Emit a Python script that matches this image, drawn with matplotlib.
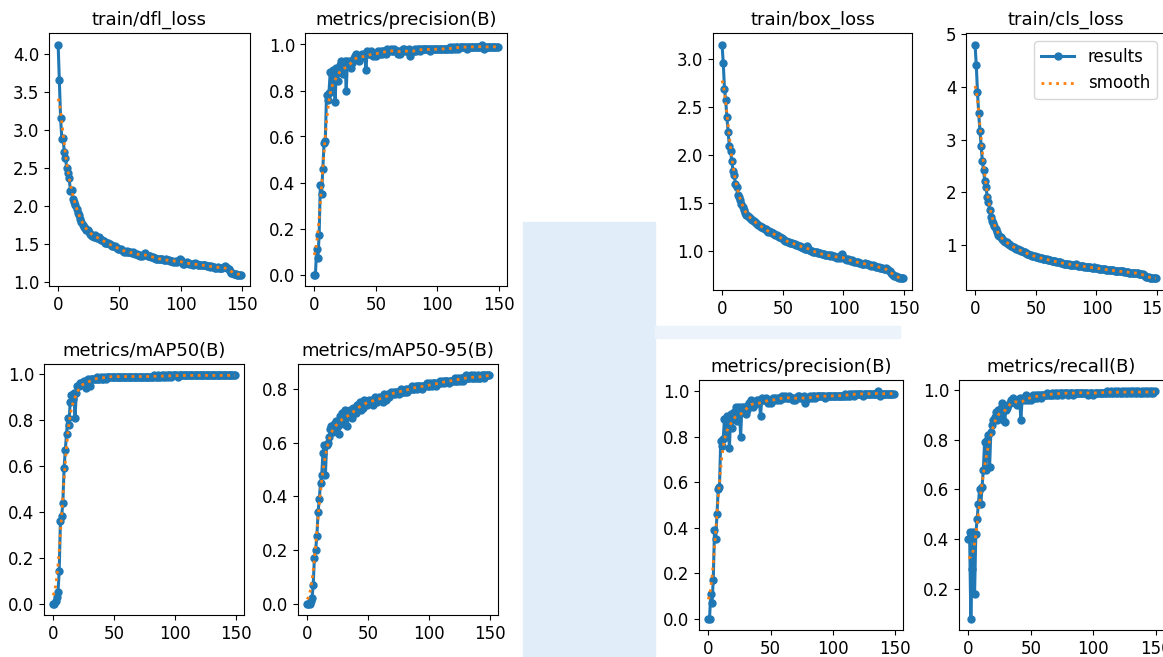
import numpy as np
import matplotlib.pyplot as plt
from matplotlib.patches import Rectangle

W, H = 1163, 657
plt.rcParams['font.family'] = ['DejaVu Sans']
plt.rcParams['font.size'] = 12

epochs = np.arange(150)

dfl_loss = [
    4.13, 3.66, 3.16, 2.89, 2.90, 2.72, 2.64, 2.50, 2.44, 2.37,
    2.20, 2.21, 2.10, 2.05, 2.01, 1.96, 1.91, 1.88, 1.83, 1.79,
    1.75, 1.73, 1.71, 1.69, 1.68, 1.66, 1.64, 1.62, 1.61, 1.60,
    1.62, 1.60, 1.58, 1.59, 1.57, 1.56, 1.55, 1.54, 1.52, 1.51,
    1.51, 1.52, 1.50, 1.49, 1.48, 1.47, 1.47, 1.46, 1.45, 1.44,
    1.44, 1.43, 1.42, 1.41, 1.40, 1.40, 1.41, 1.39, 1.39, 1.40,
    1.38, 1.39, 1.38, 1.37, 1.37, 1.36, 1.36, 1.35, 1.35, 1.36,
    1.37, 1.38, 1.36, 1.35, 1.34, 1.34, 1.33, 1.33, 1.32, 1.32,
    1.31, 1.31, 1.31, 1.30, 1.30, 1.30, 1.29, 1.29, 1.30, 1.29,
    1.29, 1.28, 1.28, 1.28, 1.27, 1.27, 1.28, 1.27, 1.28, 1.30,
    1.29, 1.26, 1.24, 1.24, 1.25, 1.26, 1.25, 1.24, 1.24, 1.24,
    1.23, 1.24, 1.25, 1.24, 1.23, 1.23, 1.22, 1.22, 1.23, 1.22,
    1.22, 1.21, 1.21, 1.21, 1.20, 1.21, 1.20, 1.20, 1.19, 1.19,
    1.20, 1.19, 1.19, 1.19, 1.18, 1.20, 1.21, 1.20, 1.19, 1.17,
    1.14, 1.12, 1.12, 1.11, 1.11, 1.11, 1.10, 1.10, 1.10, 1.10,
]

box_loss = [
    3.15, 2.96, 2.69, 2.57, 2.39, 2.24, 2.09, 2.04, 1.93, 1.83,
    1.79, 1.70, 1.66, 1.58, 1.56, 1.53, 1.49, 1.45, 1.42, 1.39,
    1.37, 1.36, 1.35, 1.34, 1.33, 1.32, 1.31, 1.30, 1.29, 1.28,
    1.27, 1.26, 1.25, 1.25, 1.24, 1.23, 1.22, 1.20, 1.19, 1.20,
    1.19, 1.18, 1.18, 1.17, 1.16, 1.16, 1.15, 1.14, 1.14, 1.13,
    1.12, 1.11, 1.10, 1.10, 1.09, 1.09, 1.08, 1.08, 1.08, 1.07,
    1.07, 1.06, 1.06, 1.05, 1.05, 1.04, 1.04, 1.03, 1.02, 1.02,
    1.05, 1.03, 1.01, 1.00, 1.00, 0.99, 0.99, 0.98, 0.98, 0.97,
    0.97, 0.97, 0.96, 0.96, 0.96, 0.95, 0.95, 0.95, 0.95, 0.94,
    0.95, 0.94, 0.94, 0.93, 0.93, 0.92, 0.93, 0.92, 0.95, 0.96,
    0.93, 0.91, 0.91, 0.90, 0.91, 0.90, 0.89, 0.90, 0.89, 0.88,
    0.88, 0.88, 0.88, 0.87, 0.87, 0.86, 0.86, 0.86, 0.87, 0.86,
    0.86, 0.85, 0.85, 0.84, 0.85, 0.84, 0.84, 0.83, 0.83, 0.83,
    0.82, 0.82, 0.82, 0.81, 0.81, 0.82, 0.81, 0.80, 0.79, 0.77,
    0.75, 0.74, 0.73, 0.73, 0.72, 0.72, 0.71, 0.71, 0.71, 0.71,
]

cls_loss = [
    4.80, 4.42, 3.91, 3.50, 3.17, 2.88, 2.60, 2.42, 2.22, 2.10,
    1.92, 1.82, 1.67, 1.53, 1.46, 1.42, 1.36, 1.30, 1.24, 1.20,
    1.17, 1.15, 1.12, 1.10, 1.08, 1.06, 1.05, 1.03, 1.02, 1.00,
    0.99, 0.97, 0.96, 0.95, 0.93, 0.92, 0.91, 0.90, 0.89, 0.88,
    0.87, 0.86, 0.85, 0.84, 0.83, 0.82, 0.81, 0.80, 0.79, 0.79,
    0.78, 0.77, 0.77, 0.76, 0.75, 0.75, 0.74, 0.74, 0.73, 0.73,
    0.72, 0.72, 0.71, 0.70, 0.70, 0.69, 0.69, 0.68, 0.68, 0.67,
    0.67, 0.66, 0.66, 0.65, 0.65, 0.65, 0.64, 0.64, 0.63, 0.63,
    0.63, 0.62, 0.63, 0.64, 0.62, 0.61, 0.61, 0.60, 0.60, 0.60,
    0.59, 0.59, 0.59, 0.58, 0.58, 0.58, 0.57, 0.57, 0.58, 0.57,
    0.56, 0.56, 0.55, 0.55, 0.55, 0.54, 0.54, 0.54, 0.53, 0.53,
    0.53, 0.53, 0.52, 0.52, 0.52, 0.51, 0.51, 0.51, 0.51, 0.50,
    0.50, 0.50, 0.50, 0.49, 0.49, 0.49, 0.49, 0.48, 0.48, 0.48,
    0.48, 0.47, 0.47, 0.47, 0.47, 0.46, 0.46, 0.46, 0.45, 0.43,
    0.41, 0.40, 0.39, 0.39, 0.38, 0.38, 0.38, 0.37, 0.37, 0.37,
]

precision = [
    0.00, 0.00, 0.11, 0.07, 0.17, 0.39, 0.35, 0.46, 0.57, 0.58,
    0.78, 0.76, 0.79, 0.88, 0.80, 0.89, 0.85, 0.75, 0.90, 0.84,
    0.88, 0.91, 0.93, 0.87, 0.92, 0.93, 0.80, 0.93, 0.91, 0.93,
    0.90, 0.92, 0.94, 0.95, 0.96, 0.95, 0.93, 0.94, 0.95, 0.96,
    0.95, 0.96, 0.89, 0.97, 0.96, 0.96, 0.97, 0.96, 0.95, 0.96,
    0.95, 0.96, 0.97, 0.96, 0.97, 0.96, 0.97, 0.97, 0.96, 0.98,
    0.97, 0.97, 0.98, 0.97, 0.97, 0.98, 0.97, 0.97, 0.96, 0.97,
    0.96, 0.97, 0.98, 0.98, 0.97, 0.97, 0.97, 0.98, 0.95, 0.97,
    0.97, 0.97, 0.98, 0.97, 0.98, 0.98, 0.97, 0.98, 0.98, 0.98,
    0.98, 0.98, 0.98, 0.98, 0.97, 0.98, 0.98, 0.98, 0.98, 0.98,
    0.98, 0.98, 0.98, 0.98, 0.98, 0.98, 0.98, 0.98, 0.98, 0.98,
    0.99, 0.98, 0.98, 0.99, 0.98, 0.99, 0.99, 0.98, 0.99, 0.99,
    0.99, 0.99, 0.99, 0.99, 0.98, 0.99, 0.99, 0.99, 0.99, 0.99,
    0.99, 0.99, 0.99, 0.99, 0.99, 0.99, 1.00, 0.99, 0.98, 0.99,
    0.99, 0.99, 0.99, 0.99, 0.99, 0.99, 0.99, 0.99, 0.99, 0.99,
]

recall = [
    0.40, 0.43, 0.08, 0.28, 0.43, 0.18, 0.42, 0.48, 0.54, 0.60,
    0.54, 0.61, 0.68, 0.79, 0.68, 0.80, 0.82, 0.69, 0.83, 0.86,
    0.88, 0.89, 0.91, 0.88, 0.92, 0.90, 0.93, 0.95, 0.88, 0.87,
    0.92, 0.93, 0.94, 0.95, 0.96, 0.96, 0.97, 0.95, 0.96, 0.94,
    0.96, 0.97, 0.88, 0.96, 0.97, 0.96, 0.98, 0.97, 0.96, 0.97,
    0.96, 0.97, 0.98, 0.97, 0.98, 0.97, 0.98, 0.98, 0.97, 0.98,
    0.98, 0.98, 0.98, 0.99, 0.98, 0.98, 0.98, 0.99, 0.98, 0.99,
    0.98, 0.99, 0.98, 0.99, 0.99, 0.98, 0.99, 0.99, 0.99, 0.99,
    0.98, 0.99, 0.99, 0.99, 0.98, 0.99, 0.99, 0.99, 0.99, 0.99,
    0.99, 0.99, 0.99, 0.99, 0.99, 0.99, 0.98, 0.99, 0.99, 0.99,
    0.98, 0.99, 0.99, 0.99, 0.99, 0.99, 0.99, 0.99, 0.99, 0.99,
    0.99, 0.995, 0.99, 0.99, 0.995, 0.99, 0.99, 0.995, 0.99, 0.99,
    0.995, 0.99, 0.99, 0.995, 0.99, 0.995, 0.99, 0.99, 0.995, 0.99,
    0.995, 0.99, 0.995, 0.99, 0.995, 0.99, 0.995, 0.99, 0.99, 0.995,
    0.99, 0.995, 0.99, 0.995, 0.99, 0.995, 0.99, 0.995, 0.99, 0.995,
]

map50 = [
    0.00, 0.00, 0.01, 0.03, 0.05, 0.14, 0.36, 0.38, 0.44, 0.59,
    0.67, 0.74, 0.81, 0.78, 0.88, 0.91, 0.89, 0.92, 0.81, 0.92,
    0.95, 0.95, 0.96, 0.96, 0.96, 0.97, 0.95, 0.94, 0.97, 0.98,
    0.95, 0.98, 0.98, 0.98, 0.98, 0.98, 0.99, 0.98, 0.98, 0.99,
    0.98, 0.98, 0.99, 0.98, 0.99, 0.99, 0.99, 0.99, 0.99, 0.99,
    0.99, 0.99, 0.99, 0.99, 0.99, 0.99, 0.99, 0.99, 0.99, 0.99,
    0.99, 0.99, 0.99, 0.99, 0.99, 0.99, 0.99, 0.99, 0.99, 0.99,
    0.99, 0.99, 0.99, 0.99, 0.99, 0.99, 0.99, 0.99, 0.99, 0.99,
    0.99, 0.99, 0.99, 0.995, 0.99, 0.99, 0.995, 0.99, 0.99, 0.995,
    0.99, 0.995, 0.99, 0.995, 0.99, 0.995, 0.995, 0.99, 0.995, 0.995,
    0.995, 0.995, 0.99, 0.995, 0.995, 0.995, 0.995, 0.995, 0.995, 0.995,
    0.995, 0.995, 0.995, 0.995, 0.995, 0.995, 0.995, 0.995, 0.995, 0.995,
    0.995, 0.995, 0.995, 0.995, 0.995, 0.995, 0.995, 0.995, 0.995, 0.995,
    0.995, 0.995, 0.995, 0.995, 0.995, 0.995, 0.995, 0.995, 0.995, 0.995,
    0.995, 0.995, 0.995, 0.995, 0.995, 0.995, 0.995, 0.995, 0.995, 0.995,
]

map50_95 = [
    0.00, 0.00, 0.00, 0.01, 0.02, 0.07, 0.17, 0.20, 0.25, 0.34,
    0.39, 0.45, 0.48, 0.56, 0.59, 0.48, 0.59, 0.60, 0.62, 0.65,
    0.66, 0.64, 0.67, 0.67, 0.68, 0.66, 0.63, 0.70, 0.69, 0.71,
    0.67, 0.72, 0.70, 0.66, 0.71, 0.72, 0.70, 0.69, 0.73, 0.72,
    0.71, 0.74, 0.73, 0.75, 0.72, 0.74, 0.73, 0.76, 0.75, 0.74,
    0.75, 0.76, 0.75, 0.76, 0.74, 0.76, 0.77, 0.75, 0.76, 0.77,
    0.76, 0.77, 0.75, 0.78, 0.77, 0.76, 0.78, 0.77, 0.78, 0.79,
    0.78, 0.79, 0.78, 0.79, 0.79, 0.78, 0.79, 0.80, 0.79, 0.79,
    0.79, 0.80, 0.79, 0.80, 0.80, 0.80, 0.81, 0.80, 0.80, 0.81,
    0.80, 0.81, 0.81, 0.81, 0.80, 0.81, 0.81, 0.81, 0.82, 0.81,
    0.81, 0.82, 0.81, 0.82, 0.82, 0.82, 0.81, 0.82, 0.82, 0.83,
    0.82, 0.83, 0.82, 0.83, 0.83, 0.83, 0.82, 0.83, 0.83, 0.83,
    0.83, 0.84, 0.83, 0.83, 0.84, 0.83, 0.84, 0.84, 0.83, 0.84,
    0.85, 0.84, 0.84, 0.84, 0.85, 0.84, 0.84, 0.85, 0.84, 0.84,
    0.85, 0.84, 0.84, 0.85, 0.85, 0.84, 0.85, 0.85, 0.85, 0.85,
]


def smooth(y, sigma=3):
    # same as gaussian_filter1d(y, 3) with reflect padding
    r = int(4 * sigma + 0.5)
    k = np.exp(-0.5 * (np.arange(-r, r + 1) / sigma) ** 2)
    k /= k.sum()
    yp = np.pad(np.asarray(y, dtype=float), r, mode="symmetric")
    return np.convolve(yp, k, mode="valid")


def add_ax(fig, left, top, right, bottom):
    return fig.add_axes([left / W, 1 - bottom / H, (right - left) / W, (bottom - top) / H])


fig = plt.figure(figsize=(W / 100, H / 100), dpi=100)

# pale blue backdrop pieces of the collage
fig.patches.append(Rectangle((523 / W, 0), (655 - 523) / W, 1 - 222 / H,
                             transform=fig.transFigure, color="#e2edfa", zorder=0))
fig.patches.append(Rectangle((655 / W, 1 - 338 / H), (900 - 655) / W, 12 / H,
                             transform=fig.transFigure, color="#edf3fb", zorder=0))

panels = [
    ("train/dfl_loss", dfl_loss, (49, 33, 250, 286), False),
    ("metrics/precision(B)", precision, (305, 33, 507, 286), False),
    ("train/box_loss", box_loss, (713, 33, 912, 290), False),
    ("train/cls_loss", cls_loss, (966, 33, 1165, 290), True),
    ("metrics/mAP50(B)", map50, (44, 364, 244, 615), False),
    ("metrics/mAP50-95(B)", map50_95, (298, 364, 498, 615), False),
    ("metrics/precision(B)", precision, (699, 380, 903, 630), False),
    ("metrics/recall(B)", recall, (959, 380, 1164, 630), False),
]

for title, vals, box, show_legend in panels:
    ax = add_ax(fig, *box)
    ax.plot(epochs, vals, marker=".", label="results", linewidth=2.2, markersize=10)
    ax.plot(epochs, smooth(vals), ":", label="smooth", linewidth=2)
    ax.set_title(title, fontsize=13)
    ax.set_xticks([0, 50, 100, 150])
    if show_legend:
        ax.legend(loc="upper right", fontsize=12)

fig.savefig("out.png", dpi=100)
